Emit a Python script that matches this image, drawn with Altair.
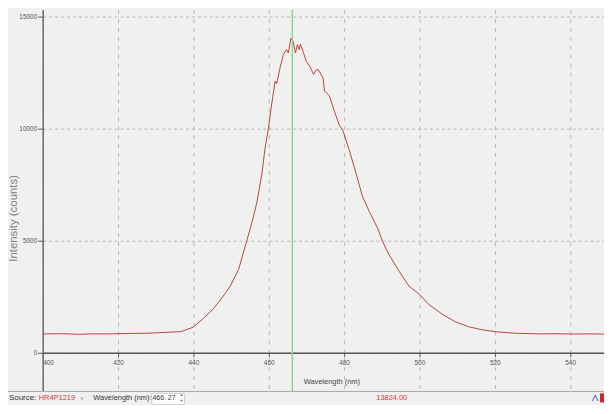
import altair as alt
import pandas as pd

# ---- data ----
wavelength = [400.0, 405.0, 409.5, 413.5, 417.4, 422.0, 427.9, 432.0, 436.7, 439.9,
              442.6, 445.4, 447.6, 449.8, 452.0, 454.2, 455.5, 456.8, 458.2, 459.0,
              459.9, 460.8, 461.7, 462.1, 463.0, 463.9, 464.7, 465.2, 465.9, 466.5,
              467.1, 467.6, 468.1, 468.4, 469.1, 470.0, 470.9, 471.9, 472.5, 473.1,
              474.4, 474.8, 476.1, 477.4, 478.8, 479.7, 481.4, 483.2, 484.9, 486.7,
              488.9, 490.2, 491.9, 494.6, 497.2, 500.0, 502.4, 506.0, 509.5, 513.0,
              516.5, 520.0, 525.3, 532.3, 536.0, 541.1, 545.0, 549.5]
intensity = [841, 850, 825, 845, 841, 860, 872, 905, 943, 1137,
             1520, 1977, 2450, 2980, 3717, 5015, 5783, 6668, 7996, 9100,
             9987, 11107, 12125, 12000, 12713, 13306, 13527, 13377, 14041, 13895,
             13377, 13748, 13527, 13777, 13452, 12990, 12788, 12420, 12600, 12641,
             12273, 11682, 11461, 10797, 10133, 9912, 9027, 7996, 6963, 6297,
             5561, 4969, 4380, 3642, 2978, 2611, 2168, 1726, 1385, 1164,
             1031, 943, 872, 841, 850, 835, 845, 832]

marker_wavelength = [466.27]
x_ticks = [400, 420, 440, 460, 480, 500, 520, 540]
y_ticks = [0, 5000, 10000, 15000]

x_title = "Wavelength (nm)"
y_title = "Intensity (counts)"
source_label = "Source:"
source_name = "HR4P1219"
wl_label = "Wavelength (nm):"
wl_value = "466. 27"
readout = "13824.00"

FONT = "Liberation Sans, Arial, sans-serif"

spec = pd.DataFrame({"wavelength": wavelength, "intensity": intensity})
marker = pd.DataFrame({"wavelength": marker_wavelength})

xscale = alt.Scale(domain=[400, 549], nice=False, zero=False)
yscale = alt.Scale(domain=[-1726, 15310], nice=False, zero=False)

line = alt.Chart(spec).mark_line(color="#b8443e", strokeWidth=1, clip=True).encode(
    x=alt.X("wavelength:Q", scale=xscale,
            axis=alt.Axis(values=x_ticks, format="d", offset=-39,
                          title=x_title, titleFont=FONT, titleFontSize=7.5,
                          titleFontWeight="normal", titleColor="#444",
                          titleX=291, titleY=29, titleBaseline="middle",
                          labelFont=FONT, labelFontSize=6.5, labelColor="#555",
                          labelPadding=3, labelFlush=True,
                          tickSize=4, tickColor="#555",
                          domainColor="#555", domainWidth=1.5,
                          gridColor="#b5b5b5", gridDash=[4, 5], gridWidth=1)),
    y=alt.Y("intensity:Q", scale=yscale,
            axis=alt.Axis(values=y_ticks, format="d",
                          title=y_title, titleFont=FONT, titleFontSize=11.5,
                          titleFontWeight="normal", titleColor="#808080",
                          titleX=-29, titleY=210, titleBaseline="middle",
                          titleAngle=270,
                          labelFont=FONT, labelFontSize=6.5, labelColor="#555",
                          labelPadding=1,
                          tickSize=5, tickColor="#555",
                          domainColor="#6a6a6a", domainWidth=1.5,
                          gridColor="#b5b5b5", gridDash=[3, 3], gridWidth=1)),
)

vline = alt.Chart(marker).mark_rule(color="#86d886", strokeWidth=1.5).encode(
    x=alt.X("wavelength:Q", scale=xscale)
)


def one():
    return alt.Chart(alt.Data(values=[{}]))


def label(text, x, y, color="#333", size=8, align="left"):
    return one().mark_text(text=text, align=align, baseline="middle",
                           fontSize=size, color=color, font=FONT).encode(
        x=alt.value(x), y=alt.value(y))


border = one().mark_rule(color="#a8a8a8", strokeWidth=1).encode(
    x=alt.value(-35), x2=alt.value(566), y=alt.value(385))

inbox = one().mark_rect(fill="white", stroke="#bbbbbb", strokeWidth=0.7).encode(
    x=alt.value(110), x2=alt.value(143), y=alt.value(387), y2=alt.value(398))

icon = one().mark_rect(fill="#cc2222").encode(
    x=alt.value(562), x2=alt.value(566), y=alt.value(387), y2=alt.value(396))

layers = [
    line, vline, border, inbox, icon,
    label(source_label, -34, 392, "#333", 8),
    label(source_name, -4, 392, "#d03a3a", 7.5),
    label("v", 38, 392, "#888", 6),
    label(wl_label, 51, 392, "#333", 7.5),
    label(wl_value, 134, 392, "#333", 7, "right"),
    label("▲", 140, 389, "#666", 4, "center"),
    label("▼", 140, 395, "#666", 4, "center"),
    label(readout, 352, 392, "#d03a3a", 7.5, "center"),
    label("Λ", 557, 392, "#2850c8", 10, "center"),
]

chart = alt.layer(*layers).properties(
    width=566, height=385,
    background="#f0f0f0",
    autosize=alt.AutoSizeParams(type="none"),
    padding={"left": 35, "top": 0, "right": 0, "bottom": 12},
).configure_view(stroke=None, fill="#f0f0f0")

chart.save("out.html", embed_options={"renderer": "svg", "actions": False})
